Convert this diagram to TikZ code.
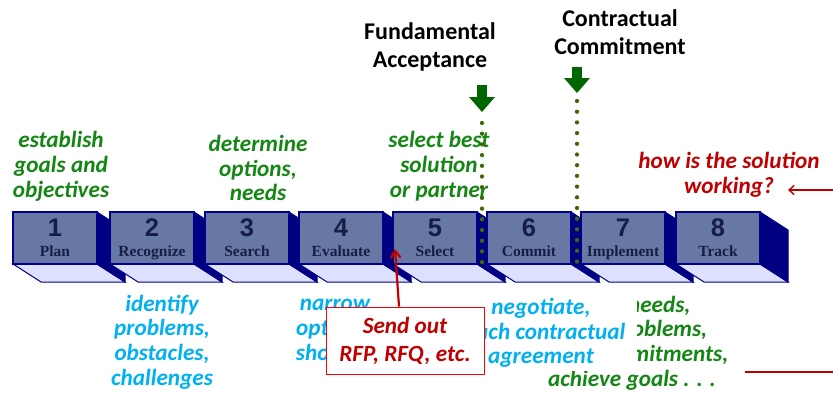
\documentclass[tikz,border=0pt]{standalone}
\usepackage{fontspec}
\setmainfont{Carlito}
\newfontfamily\numfont{Liberation Sans}
\newfontfamily\labfont{Liberation Serif}
\usetikzlibrary{arrows.meta}
\definecolor{frontc}{RGB}{104,120,164}
\definecolor{sidec}{RGB}{0,0,128}
\definecolor{botc}{RGB}{222,224,255}
\definecolor{edgec}{RGB}{0,0,140}
\definecolor{inkc}{RGB}{22,30,70}
\definecolor{grn}{RGB}{20,134,20}
\definecolor{dgrn}{RGB}{0,102,0}
\definecolor{dotc}{RGB}{62,104,10}
\definecolor{sky}{RGB}{0,176,240}
\definecolor{dred}{RGB}{192,0,0}
\begin{document}
\begin{tikzpicture}[x=1pt,y=-1pt,
  front/.style={draw=edgec, line width=1.3pt, fill=frontc, minimum width=84pt, minimum height=52pt, inner sep=0pt},
  facebot/.style={fill=botc, draw=edgec, line width=1pt},
  faceside/.style={fill=sidec, draw=edgec, line width=1pt},
  numst/.style={inner sep=0pt, text=inkc, font=\numfont\fontsize{25.5}{26}\selectfont\bfseries},
  labst/.style={inner sep=0pt, text=inkc, font=\labfont\fontsize{15.5}{16}\selectfont\bfseries},
  txt/.style={align=center, inner sep=0pt, font=\fontsize{23.2}{24.7}\selectfont\bfseries\itshape},
  head/.style={align=center, inner sep=0pt, text=black, font=\fontsize{24}{27.8}\selectfont\bfseries},
  dots/.style={draw=dotc, line width=4.3pt, dash pattern=on 0pt off 10.7pt, line cap=round},
  blockarrow/.style={fill=dgrn}
]
\useasboundingbox (0,0) rectangle (833,394);

% texts above
\node[txt, text=grn] (est) at (61,166.5) {establish\\goals and\\objectives};
\node[txt, text=grn] (det) at (258,168) {determine\\options,\\needs};
\node[txt, text=grn] (sel) at (439,166) {select best\\solution\\or partner};
\node[txt, text=dred] (how) at (729,175) {how is the solution\\working?};
\node[head] (fund) at (430,47) {Fundamental\\Acceptance};
\node[head] (contr) at (620,32.5) {Contractual\\Commitment};

% boxes
\foreach \i/\x/\num/\lab in {1/13/1/Plan,2/110/2/Recognize,3/205/3/Search,4/299/4/Evaluate,5/393/5/Select,6/487/6/Commit,7/581/7/Implement,8/676/8/Track}{
  \path[facebot] (\x,264) -- ++(84,0) -- ++(28,18) -- ++(-84,0) -- cycle;
  \path[faceside] (\x+84,212) -- ++(28,18) -- ++(0,52) -- ++(-28,-18) -- cycle;
  \node[front] (b\i) at (\x+42,238) {};
  \node[numst, anchor=base] (n\i) at (\x+42,236) {\num};
  \node[labst, anchor=base] (l\i) at (\x+42,256) {\lab};
}

% green block arrows and dotted lines
\fill[blockarrow] (477,85) rectangle (487,97);
\fill[blockarrow] (469,97) -- (495,97) -- (482,112) -- cycle;
\fill[blockarrow] (572,67) rectangle (582,78);
\fill[blockarrow] (564,78) -- (590,78) -- (577,93) -- cycle;
\coordinate (d1top) at (482,123);
\coordinate (d1bot) at (482,263);
\coordinate (d2top) at (577,101);
\coordinate (d2bot) at (577,263);
\draw[dots] (d1top) -- (d1bot);
\draw[dots] (d2top) -- (d2bot);

% texts below
\node[txt, text=sky] (idf) at (162,342) {identify\\problems,\\obstacles,\\challenges};
\node[txt, text=sky] (nar) at (335,330) {narrow\\options,\\shortlist};
\begin{scope}
  \clip (637,285) -- (833,285) -- (833,394) -- (500,394) -- (500,371) -- (637,371) -- cycle;
  \node[txt, text=grn] (ach) at (632,343) {meet needs,\\solve problems,\\meet commitments,\\achieve goals . . .};
\end{scope}
\node[txt, text=sky] (neg) at (541,333) {negotiate,\\reach contractual\\agreement};

\node[draw=red, fill=white, line width=0.8pt, minimum width=158pt, minimum height=67pt, inner sep=0pt,
      align=center, text=dred, font=\fontsize{23.2}{28}\selectfont\bfseries\itshape] (send) at (405,340.5) {Send out\\RFP, RFQ, etc.};

% red arrows and line
\coordinate (rfptip) at (395,249);
\draw[dred, line width=2.2pt, -{Straight Barb[length=7pt,width=10pt]}] ([xshift=-6pt]send.north) -- (rfptip);
\coordinate (wstart) at (833,190);
\coordinate (wtip) at (788,190);
\draw[dred, line width=1.4pt, -{Straight Barb[length=5pt,width=9pt]}] (wstart) -- (wtip);
\coordinate (rl1) at (745,372);
\coordinate (rl2) at (833,372);
\draw[dred, line width=1.4pt] (rl1) -- (rl2);
\end{tikzpicture}
\end{document}
